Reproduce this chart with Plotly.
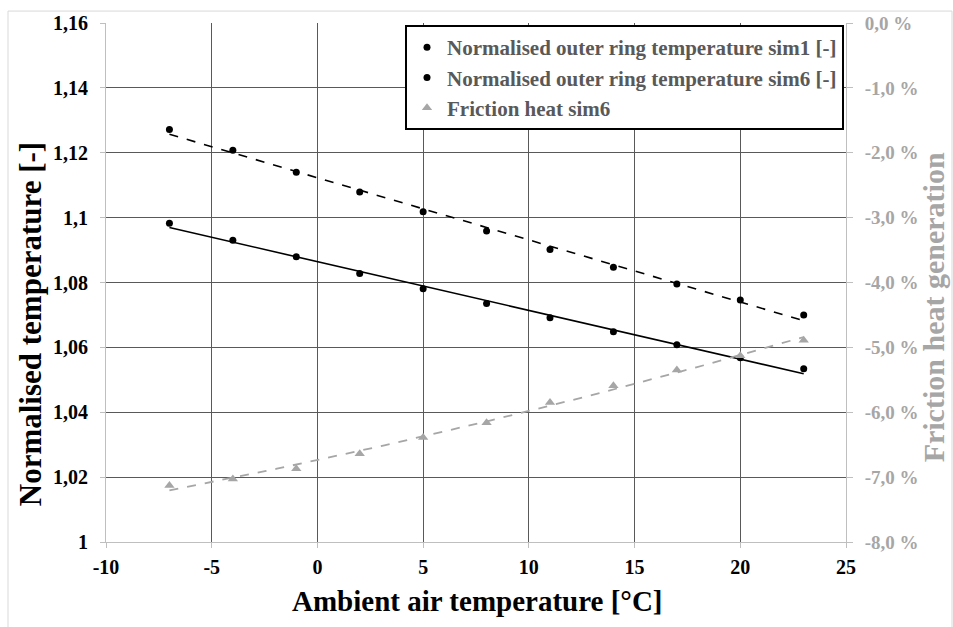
import numpy as np
import plotly.graph_objects as go

# ---- data ----
ambient_temp = [-7, -4, -1, 2, 5, 8, 11, 14, 17, 20, 23]
norm_temp_sim1 = [1.1272, 1.1208, 1.1140, 1.1079, 1.1018, 1.0959, 1.0902, 1.0847, 1.0795, 1.0746, 1.0700]
norm_temp_sim6 = [1.0983, 1.0930, 1.0879, 1.0828, 1.0781, 1.0735, 1.0691, 1.0648, 1.0608, 1.0568, 1.0534]
friction_heat_sim6 = [-7.13, -7.03, -6.87, -6.64, -6.39, -6.16, -5.85, -5.59, -5.35, -5.13, -4.89]

x_ticks = [-10, -5, 0, 5, 10, 15, 20, 25]
x_tick_labels = ["-10", "-5", "0", "5", "10", "15", "20", "25"]
y_ticks = [1.0, 1.02, 1.04, 1.06, 1.08, 1.10, 1.12, 1.14, 1.16]
y_tick_labels = ["1", "1,02", "1,04", "1,06", "1,08", "1,1", "1,12", "1,14", "1,16"]
y2_ticks = [-8, -7, -6, -5, -4, -3, -2, -1, 0]
y2_tick_labels = ["-8,0 %", "-7,0 %", "-6,0 %", "-5,0 %", "-4,0 %", "-3,0 %", "-2,0 %", "-1,0 %", "0,0 %"]

FONT = "Liberation Serif"
GRID = "#595959"
AXIS = "#bfbfbf"
GRAY = "#a6a6a6"

xa = np.array(ambient_temp, dtype=float)
xs = np.linspace(xa.min(), xa.max(), 60)
fit1 = np.polyval(np.polyfit(xa, norm_temp_sim1, 1), xs)
fit6 = np.polyval(np.polyfit(xa, norm_temp_sim6, 1), xs)
fitf = np.polyval(np.polyfit(xa, friction_heat_sim6, 2), xs)

fig = go.Figure()
fig.add_trace(go.Scatter(x=xs, y=fit1, mode="lines", line=dict(color="black", width=1.6, dash="dash"),
                         showlegend=False, hoverinfo="skip"))
fig.add_trace(go.Scatter(x=xs, y=fit6, mode="lines", line=dict(color="black", width=1.6),
                         showlegend=False, hoverinfo="skip"))
fig.add_trace(go.Scatter(x=ambient_temp, y=norm_temp_sim1, mode="markers",
                         name="Normalised outer ring temperature sim1 [-]", legendgroup="a",
                         marker=dict(color="black", size=7, symbol="circle")))
fig.add_trace(go.Scatter(x=ambient_temp, y=norm_temp_sim6, mode="markers",
                         name="Normalised outer ring temperature sim6 [-]", legendgroup="b",
                         marker=dict(color="black", size=7, symbol="circle")))
fig.add_trace(go.Scatter(x=xs, y=fitf, mode="lines", yaxis="y2", line=dict(color=GRAY, width=1.8, dash="dash"),
                         showlegend=False, hoverinfo="skip"))
fig.add_trace(go.Scatter(x=ambient_temp, y=friction_heat_sim6, mode="markers", yaxis="y2",
                         name="Friction heat sim6", legendgroup="c",
                         marker=dict(color=GRAY, size=9, symbol="triangle-up")))

L, R, T, B = 106, 107, 20, 85
W, H = 953, 627
pw, ph = W - L - R, H - T - B

def px(xp):
    return (xp - L) / pw

def py(yp):
    return (H - B - yp) / ph

fig.update_layout(
    width=W, height=H,
    margin=dict(l=L, r=R, t=T, b=B),
    paper_bgcolor="white", plot_bgcolor="white",
    font=dict(family=FONT, color="black"),
    xaxis=dict(range=[-10, 25], tickvals=x_ticks, ticktext=x_tick_labels, showgrid=True, gridcolor=GRID,
               gridwidth=1, showline=True, linecolor=AXIS, linewidth=1, ticks="outside", ticklen=5,
               tickcolor=AXIS, ticklabelstandoff=2,
               tickfont=dict(family=FONT, size=20, color="black", weight="bold"), zeroline=False),
    yaxis=dict(range=[1.0, 1.16], tickvals=y_ticks, ticktext=y_tick_labels, showgrid=True,
               gridcolor=GRID, gridwidth=1, showline=True, linecolor=AXIS, linewidth=1,
               ticks="outside", ticklen=5, tickcolor=AXIS, zeroline=False, ticklabelstandoff=8,
               tickfont=dict(family=FONT, size=20, color="black", weight="bold")),
    yaxis2=dict(range=[-8, 0], tickvals=y2_ticks, ticktext=y2_tick_labels, overlaying="y", side="right",
                showgrid=False, showline=True, linecolor=AXIS, linewidth=1, ticks="outside", ticklen=6,
                tickcolor=AXIS, zeroline=False, ticklabelstandoff=8,
                tickfont=dict(family=FONT, size=19, color=GRAY, weight="bold")),
    legend=dict(x=px(405), y=py(22), xanchor="left", yanchor="top", bgcolor="white",
                bordercolor="black", borderwidth=2, traceorder="grouped", tracegroupgap=0,
                font=dict(family=FONT, size=21, color="#595959", weight="bold")),
    showlegend=True,
    annotations=[
        dict(text="Ambient air temperature [°C]", xref="paper", yref="paper", x=px(477), y=py(601),
             showarrow=False, xanchor="center", yanchor="middle",
             font=dict(family=FONT, size=29, color="black", weight="bold")),
        dict(text="Normalised temperature [-]", xref="paper", yref="paper", x=px(30), y=py(323),
             showarrow=False, textangle=-90, xanchor="center", yanchor="middle",
             font=dict(family=FONT, size=31, color="black", weight="bold")),
        dict(text="Friction heat generation", xref="paper", yref="paper", x=px(933), y=py(306),
             showarrow=False, textangle=-90, xanchor="center", yanchor="middle",
             font=dict(family=FONT, size=30, color=GRAY, weight="bold")),
    ],
    shapes=[dict(type="rect", xref="paper", yref="paper", x0=px(8), x1=px(952), y0=py(640), y1=py(8),
                 line=dict(color="#d9d9d9", width=1), layer="below")],
)

fig.write_html("out.html")
